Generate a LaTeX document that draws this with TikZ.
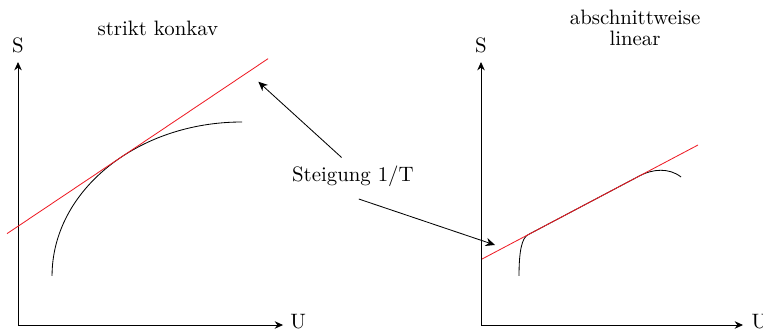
\documentclass[tikz,border=0pt]{standalone}
\usepackage{tikz}
\usetikzlibrary{calc,arrows.meta,positioning}
\definecolor{tangred}{HTML}{EE1C25}
\tikzset{
  ax/.style={-{Stealth[length=4pt,width=3.6pt]},black},
  ar/.style={-{Stealth[length=4.5pt,width=4pt]},black},
  tang/.style={tangred}
}

\begin{document}
\begin{tikzpicture}
\useasboundingbox (-0.304,-0.118) rectangle (12.568,5.483);
\coordinate (O1) at (0,0);
\coordinate (Y1) at (0,4.437);
\coordinate (X1) at (4.471,0);
\draw[ax] (O1)--(Y1);
\draw[ax] (O1)--(X1);
\node[above=1pt of Y1] (S1) {S};
\node[right=0pt of X1,yshift=1.5pt] (U1) {U};
\node (T1) at (2.36,5.01) {strikt konkav};
\draw (0.574,0.827) arc[start angle=180,end angle=90,x radius=3.205,y radius=2.598];
\draw[tang] (-0.186,1.541)--(4.218,4.493);
\coordinate (O2) at (7.811,0);
\coordinate (Y2) at (7.811,4.437);
\coordinate (X2) at (12.231,0);
\draw[ax] (O2)--(Y2);
\draw[ax] (O2)--(X2);
\node[above=1pt of Y2] (S2) {S};
\node[right=0.6pt of X2,yshift=1.5pt] (U2) {U};
\node[align=center] (T2) at (10.41,5.01) {abschnittweise\\[-2pt]linear};
\draw (8.452,0.827) .. controls (8.452,1.25) and (8.50,1.47) .. (8.604,1.523)
  --(10.493,2.520) .. controls (10.70,2.629) and (10.98,2.66) .. (11.185,2.497);
\draw[tang] (7.828,1.113)--(11.472,3.037);
\node (st) at (5.65,2.505) {Steigung 1/T};
\coordinate (P1) at (4.054,4.104);
\coordinate (P2) at (8.047,1.350);
\draw[ar] ([xshift=-0.19cm,yshift=0.02cm]st.north)--(P1);
\draw[ar] ([xshift=0.1cm,yshift=-0.08cm]st.south)--(P2);
\end{tikzpicture}
\end{document}
